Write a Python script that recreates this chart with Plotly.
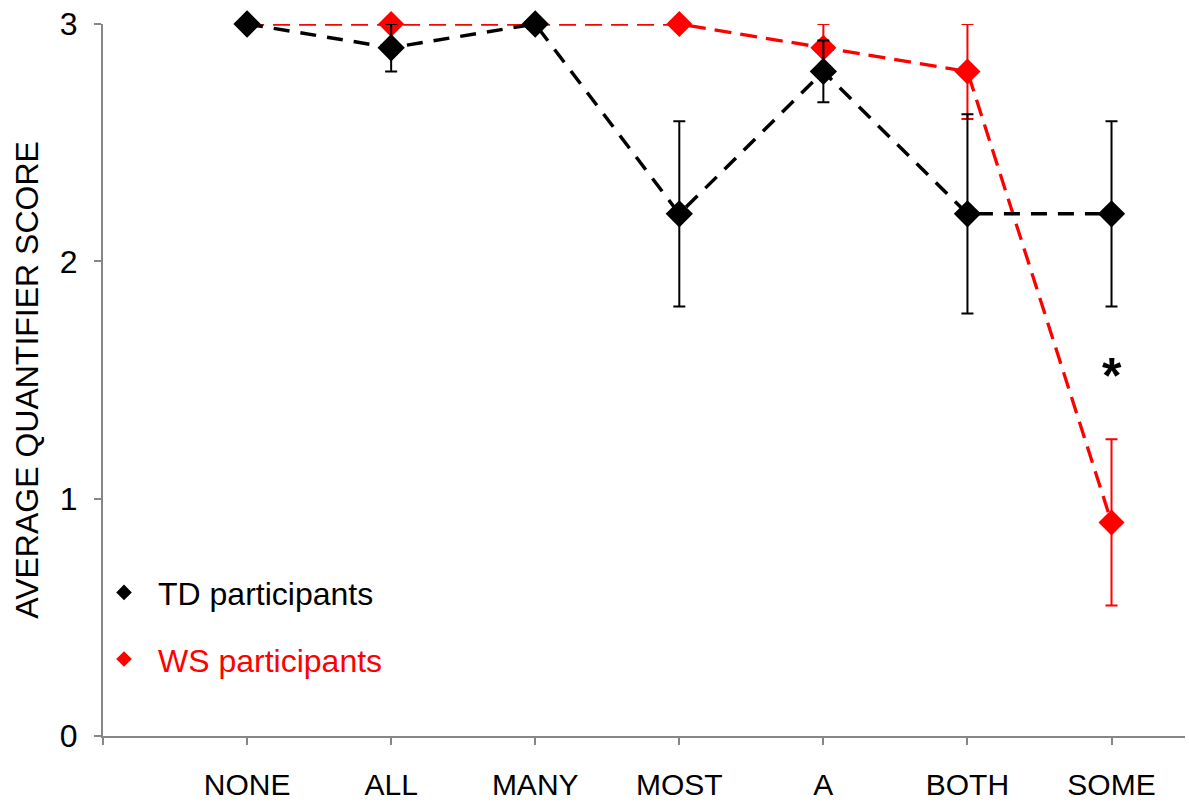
import plotly.graph_objects as go

categories = ["NONE", "ALL", "MANY", "MOST", "A", "BOTH", "SOME"]
td_scores = [3.0, 2.9, 3.0, 2.2, 2.8, 2.2, 2.2]
td_errors = [0.0, 0.1, 0.0, 0.39, 0.13, 0.42, 0.39]
ws_scores = [3.0, 3.0, 3.0, 3.0, 2.9, 2.8, 0.9]
ws_errors = [0.0, 0.0, 0.0, 0.0, 0.1, 0.2, 0.35]
y_ticks = [0, 1, 2, 3]
star_category = "SOME"
star_value = 1.55

x_pos = list(range(len(categories)))
FONT = "Liberation Sans, Arial, sans-serif"
AXIS_GRAY = "#878787"

fig = go.Figure()

fig.add_trace(go.Scatter(
    x=x_pos, y=ws_scores, mode="lines+markers", showlegend=False,
    line=dict(color="#ff0000", width=3.3, dash="17px,9px"),
    marker=dict(symbol="diamond", size=20, color="#ff0000"),
    error_y=dict(type="data", array=ws_errors, visible=True,
                 color="#ff0000", thickness=2, width=6),
    cliponaxis=False,
))
fig.add_trace(go.Scatter(
    x=x_pos, y=td_scores, mode="lines+markers", showlegend=False,
    line=dict(color="#000000", width=3.5, dash="16px,11px"),
    marker=dict(symbol="diamond", size=21, color="#000000"),
    error_y=dict(type="data", array=td_errors, visible=True,
                 color="#000000", thickness=2, width=6),
    cliponaxis=False,
))

# legend entries
fig.add_trace(go.Scatter(
    x=[None], y=[None], mode="markers", name="TD participants",
    legendgroup="td",
    marker=dict(symbol="diamond", size=12, color="#000000"),
))
fig.add_trace(go.Scatter(
    x=[None], y=[None], mode="markers",
    name="<span style='color:#ff0000'>WS participants</span>",
    legendgroup="ws",
    marker=dict(symbol="diamond", size=12, color="#ff0000"),
))

fig.add_annotation(
    x=categories.index(star_category), y=star_value, text="<b>*</b>",
    showarrow=False, yshift=-8,
    font=dict(size=50, color="#000000", family=FONT),
)

fig.update_layout(
    width=1189, height=803,
    margin=dict(l=103, r=4, t=24, b=67),
    paper_bgcolor="white", plot_bgcolor="white",
    font=dict(family=FONT, size=32, color="#000000"),
    legend=dict(
        x=-0.012, y=0.24, xanchor="left", yanchor="top",
        bgcolor="rgba(0,0,0,0)", tracegroupgap=22, itemwidth=58,
        font=dict(size=32, family=FONT),
    ),
    xaxis=dict(
        range=[-1, 6.51], automargin=False,
        tickmode="array", tickvals=[-1] + x_pos, ticktext=[""] + categories,
        showgrid=False, zeroline=False,
        showline=True, linecolor=AXIS_GRAY, linewidth=2,
        ticks="outside", ticklen=7, tickcolor=AXIS_GRAY, tickwidth=2,
        ticklabelstandoff=14, ticklabeloverflow="allow",
        tickfont=dict(size=30, family=FONT),
    ),
    yaxis=dict(
        range=[0, 3], automargin=False,
        tickmode="array", tickvals=y_ticks,
        showgrid=False, zeroline=False,
        showline=True, linecolor=AXIS_GRAY, linewidth=2,
        ticks="outside", ticklen=7, tickcolor=AXIS_GRAY, tickwidth=2,
        ticklabelstandoff=10, ticklabeloverflow="allow",
        tickfont=dict(size=32, family=FONT),
        title=dict(text="AVERAGE QUANTIFIER SCORE", standoff=12,
                   font=dict(size=32, family=FONT)),
    ),
)

fig.write_html(
    "out.html",
    config={"displayModeBar": False},
    post_script="document.body.style.margin='0';",
)
